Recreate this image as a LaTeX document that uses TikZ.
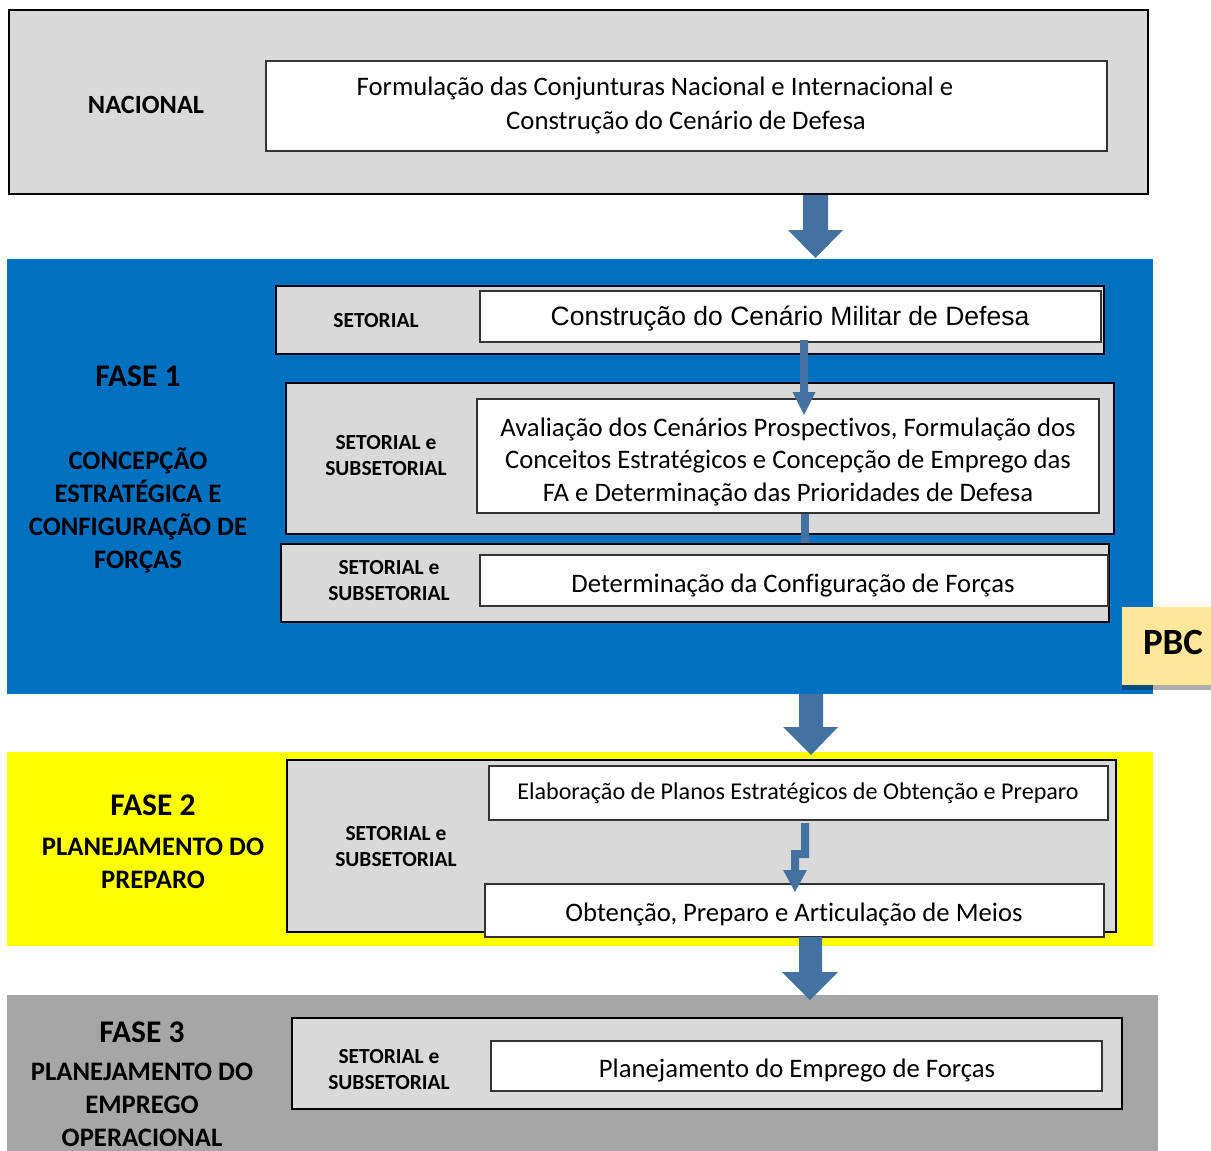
\documentclass[tikz,border=0pt]{standalone}
\usepackage{fontspec}
\setmainfont{Carlito}[Ligatures=NoCommon]
\newfontfamily\arialfont{Liberation Sans}
\definecolor{grayfill}{HTML}{D9D9D9}
\definecolor{fasebl}{HTML}{0070C0}
\definecolor{faseyl}{HTML}{FFFF00}
\definecolor{fasegr}{HTML}{A6A6A6}
\definecolor{arrowbl}{RGB}{68,114,160}
\definecolor{pbcfill}{HTML}{FFE699}
\begin{document}
\begin{tikzpicture}[x=1pt,y=-1pt,
  graybox/.style={draw=black, line width=2pt, fill=grayfill, inner sep=0pt, anchor=center},
  whitebox/.style={draw=black!80, line width=1.3pt, fill=white, inner sep=0pt, anchor=center},
  phase/.style={draw=none, inner sep=0pt, anchor=center},
  maintext/.style={font=\fontsize{26.7}{32.5}\selectfont, align=center, inner sep=0pt},
  lvltext/.style={font=\fontsize{21.5}{26}\selectfont\bfseries, align=center, inner sep=0pt},
  phasetext/.style={font=\fontsize{26.7}{33}\selectfont\bfseries, align=center, inner sep=0pt},
  fasetitle/.style={font=\fontsize{31.5}{34}\selectfont\bfseries, inner sep=0pt},
  blockarrow/.style={fill=arrowbl, draw=none},
]
\useasboundingbox (0,0) rectangle (1211,1151);
\fill[white] (0,0) rectangle (1211,1151);

% NACIONAL
\node[graybox, minimum width=1139, minimum height=184] (nac) at (578.5,102) {};
\node[whitebox, minimum width=841, minimum height=90] (nacw) at (686.5,106) {};
\node[lvltext, font=\fontsize{26.3}{30}\selectfont\bfseries] (nact) at (146,105) {NACIONAL};
\node[maintext] (nacwt1) at (655,89) {Formulação das Conjunturas Nacional e Internacional e};
\node[maintext] (nacwt2) at (686,122) {Construção do Cenário de Defesa};

% FASE 1
\node[phase, fill=fasebl, minimum width=1146, minimum height=435] (f1) at (580,476.5) {};
\node[fasetitle] (f1t) at (138,376) {FASE 1};
\node[phasetext] (f1s) at (138,510) {CONCEPÇÃO\\ESTRATÉGICA E\\CONFIGURAÇÃO DE\\FORÇAS};

\node[graybox, minimum width=828, minimum height=68] (s1) at (690,320) {};
\node[whitebox, minimum width=621, minimum height=51] (s1w) at (790.5,316.5) {};
\node[lvltext] (s1t) at (376,321) {SETORIAL};
\node[maintext, font=\fontsize{26.5}{30}\selectfont\arialfont] (s1wt) at (790,319) {Construção do Cenário Militar de Defesa};

\node[graybox, minimum width=828, minimum height=151] (s2) at (700,458.5) {};
\node[whitebox, minimum width=622, minimum height=114] (s2w) at (788,456) {};
\node[lvltext] (s2t) at (386,456) {SETORIAL e\\SUBSETORIAL};
\node[maintext] (s2wt) at (788,461.5) {Avaliação dos Cenários Prospectivos, Formulação dos\\Conceitos Estratégicos e Concepção de Emprego das\\FA e Determinação das Prioridades de Defesa};

\node[graybox, minimum width=828, minimum height=78] (s3) at (695,583) {};
\node[whitebox, minimum width=628, minimum height=51] (s3w) at (794,580.5) {};
\node[lvltext] (s3t) at (389,581) {SETORIAL e\\SUBSETORIAL};
\node[maintext] (s3wt) at (793,586) {Determinação da Configuração de Forças};

% PBC
\fill[black, opacity=0.32] (1122,612) rectangle (1211,690);
\node[phase, fill=pbcfill, minimum width=89, minimum height=78] (pbc) at (1166.5,646) {};
\node[font=\fontsize{37}{40}\selectfont\bfseries, inner sep=0pt] (pbct) at (1173,642) {PBC};

% FASE 2
\node[phase, fill=faseyl, minimum width=1146, minimum height=194] (f2) at (580,849) {};
\node[fasetitle] (f2t) at (153,805) {FASE 2};
\node[phasetext] (f2s) at (153,863) {PLANEJAMENTO DO\\PREPARO};
\node[graybox, minimum width=829, minimum height=172] (s4) at (701.5,846) {};
\node[whitebox, minimum width=619, minimum height=54] (s4w1) at (798.5,793) {};
\node[whitebox, minimum width=619, minimum height=53] (s4w2) at (794.5,910.5) {};
\node[lvltext] (s4t) at (396,847) {SETORIAL e\\SUBSETORIAL};
\node[maintext, font=\fontsize{24.1}{30}\selectfont] (s4w1t) at (798,793.5) {Elaboração de Planos Estratégicos de Obtenção e Preparo};
\node[maintext] (s4w2t) at (794,914) {Obtenção, Preparo e Articulação de Meios};

% FASE 3
\node[phase, fill=fasegr, minimum width=1151, minimum height=156] (f3) at (582.5,1073) {};
\node[fasetitle] (f3t) at (142,1032) {FASE 3};
\node[phasetext] (f3s) at (142,1105) {PLANEJAMENTO DO\\EMPREGO\\OPERACIONAL};
\node[graybox, minimum width=830, minimum height=91] (s5) at (707,1063.5) {};
\node[whitebox, minimum width=611, minimum height=50] (s5w) at (796.5,1066) {};
\node[lvltext] (s5t) at (389,1070) {SETORIAL e\\SUBSETORIAL};
\node[maintext] (s5wt) at (797,1071) {Planejamento do Emprego de Forças};

% big arrows between levels
\fill[blockarrow] (803,195) -- (828,195) -- (828,230) -- (843,230) -- (815.5,258) -- (788,230) -- (803,230) -- cycle;
\fill[blockarrow] (799,694) -- (823,694) -- (823,727) -- (838,727) -- (811,755) -- (783,727) -- (799,727) -- cycle;
\fill[blockarrow] (799,937) -- (822,937) -- (822,972) -- (838,972) -- (810,1000) -- (782,972) -- (799,972) -- cycle;

% small arrows inside FASE 1
\fill[blockarrow] (800,340) -- (808,340) -- (808,392) -- (815.5,392) -- (804,415) -- (792.5,392) -- (800,392) -- cycle;
\fill[blockarrow] (801,514) rectangle (809,543);

% elbow arrow inside FASE 2
\fill[blockarrow] (801,823) -- (809,823) -- (809,858) -- (799,858) -- (799,870) -- (807,870) -- (795,892) -- (783,870) -- (791,870) -- (791,850) -- (801,850) -- cycle;
\end{tikzpicture}
\end{document}
